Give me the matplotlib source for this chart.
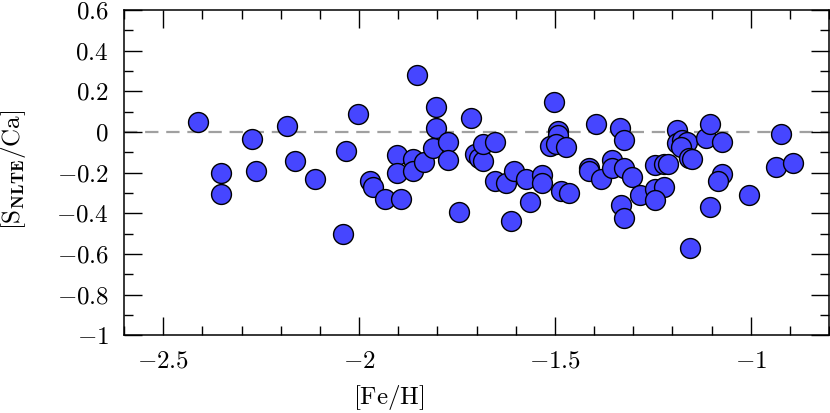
import numpy as np
import matplotlib
matplotlib.use("Agg")
import matplotlib.pyplot as plt
from matplotlib.ticker import MultipleLocator, FuncFormatter

plt.rcParams['font.family'] = 'serif'
plt.rcParams['font.serif'] = ['cmr10', 'DejaVu Serif']
plt.rcParams['mathtext.fontset'] = 'cm'

# [Fe/H] and [S_NLTE/Ca]
feh = [-2.412, -2.353, -2.353, -2.272, -2.262, -2.183, -2.163, -2.113, -2.042, -2.033,
       -2.003, -1.973, -1.965, -1.934, -1.893, -1.903, -1.903, -1.863, -1.863, -1.833,
       -1.853, -1.804, -1.804, -1.812, -1.774, -1.774, -1.744, -1.714, -1.705, -1.694,
       -1.684, -1.683, -1.654, -1.653, -1.624, -1.603, -1.574, -1.563, -1.612, -1.533,
       -1.533, -1.503, -1.493, -1.493, -1.512, -1.498, -1.472, -1.484, -1.463, -1.394,
       -1.413, -1.413, -1.383, -1.354, -1.354, -1.324, -1.303, -1.333, -1.323, -1.332,
       -1.324, -1.283, -1.243, -1.222, -1.212, -1.243, -1.222, -1.243, -1.189, -1.188,
       -1.175, -1.163, -1.179, -1.158, -1.151, -1.154, -1.114, -1.103, -1.073, -1.073,
       -1.083, -1.103, -1.004, -0.923, -0.935, -0.893]
snlte_ca = [0.049, -0.201, -0.303, -0.032, -0.191, 0.030, -0.141, -0.232, -0.503, -0.092,
            0.090, -0.242, -0.270, -0.328, -0.328, -0.114, -0.200, -0.131, -0.190, -0.149,
            0.280, 0.121, 0.020, -0.080, -0.050, -0.140, -0.393, 0.071, -0.109, -0.128,
            -0.143, -0.057, -0.051, -0.242, -0.253, -0.190, -0.232, -0.343, -0.440, -0.210,
            -0.252, 0.150, 0.004, -0.013, -0.071, -0.057, -0.075, -0.290, -0.301, 0.039,
            -0.175, -0.194, -0.233, -0.139, -0.175, -0.179, -0.222, 0.020, -0.040, -0.360,
            -0.421, -0.311, -0.161, -0.158, -0.155, -0.278, -0.270, -0.332, 0.012, -0.056,
            -0.040, -0.048, -0.075, -0.130, -0.134, -0.570, -0.029, 0.039, -0.051, -0.207,
            -0.239, -0.371, -0.311, -0.011, -0.172, -0.152]

fig = plt.figure(figsize=(8.3, 4.13), dpi=100)
ax = fig.add_axes([0.1494, 0.188, 0.8494, 0.7878])

ax.axhline(0, color='#a0a0a0', lw=1.6, dashes=(6, 3.5), zorder=1)
ax.scatter(feh, snlte_ca, s=205, c='#4646ff', edgecolors='black', linewidths=1.0, zorder=2)

ax.set_xlim(-2.6, -0.8)
ax.set_ylim(-1.0, 0.6)
ax.xaxis.set_major_locator(MultipleLocator(0.5))
ax.xaxis.set_minor_locator(MultipleLocator(0.1))
ax.yaxis.set_major_locator(MultipleLocator(0.2))
ax.yaxis.set_minor_locator(MultipleLocator(0.1))

fmt = FuncFormatter(lambda v, p: '$%g$' % round(v, 2))
ax.xaxis.set_major_formatter(fmt)
ax.yaxis.set_major_formatter(fmt)

ax.tick_params(which='both', direction='in', top=True, right=True, labelsize=18, width=1.0)
ax.tick_params(axis='y', which='major', length=13, pad=11)
ax.tick_params(axis='x', which='major', length=13, pad=11)
ax.tick_params(which='minor', length=6.5)
for s in ax.spines.values():
    s.set_linewidth(1.1)

ax.set_xlabel(r'$\left[\mathrm{Fe/H}\right]$', fontsize=18, va='center')
ax.xaxis.set_label_coords(0.376, -0.19)
ax.set_ylabel(r'$\left[\mathrm{S}_{\mathbf{NLTE}}/\mathrm{Ca}\right]$', fontsize=18, va='center')
ax.yaxis.set_label_coords(-0.157, 0.51)

fig.savefig('out.png', dpi=100)
